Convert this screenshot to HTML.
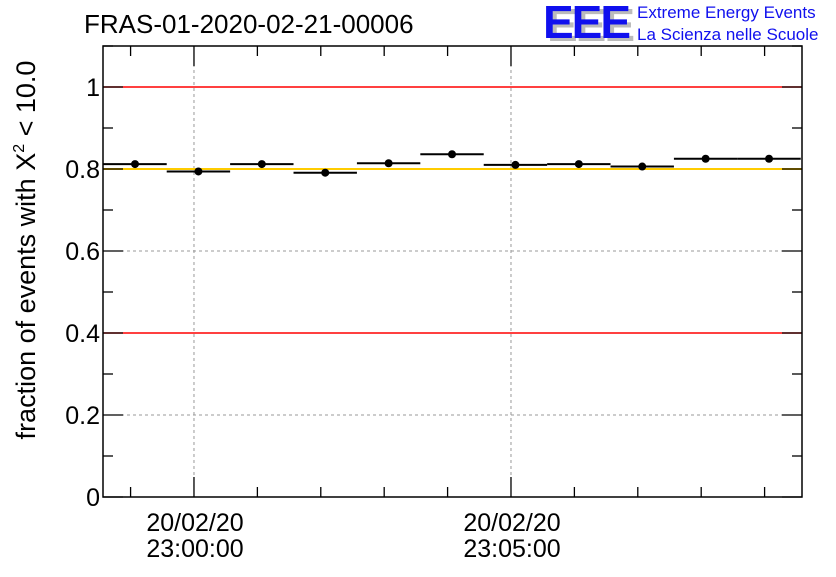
<!DOCTYPE html>
<html><head><meta charset="utf-8"><style>
body{margin:0;background:#fff;}
svg text{font-family:"Liberation Sans",sans-serif;}
</style></head><body>
<svg id="c" width="836" height="572" xmlns="http://www.w3.org/2000/svg"></svg>
<script>
const binCentersMin=[-0.93,0.07,1.07,2.07,3.07,4.07,5.07,6.07,7.07,8.07,9.07];
const fractions=[0.812,0.794,0.812,0.791,0.814,0.836,0.810,0.812,0.806,0.825,0.825];
const yTicks=[0,0.2,0.4,0.6,0.8,1];
const yTickLabels=["0","0.2","0.4","0.6","0.8","1"];
const xMajor=[0,5];
const xMajorLabels=[["20/02/20","23:00:00"],["20/02/20","23:05:00"]];
const refRed=[1,0.4];
const refYellow=[0.8];
const L=103,R=802,T=46,B=497;
const xMin=-1.435,xMax=9.59,yMin=0,yMax=1.1;
const X=v=>L+(v-xMin)/(xMax-xMin)*(R-L);
const Y=v=>B-(v-yMin)/(yMax-yMin)*(B-T);
const svg=document.getElementById('c');
const NS='http://www.w3.org/2000/svg';
function mk(tag,attrs,name,txt){const e=document.createElementNS(NS,tag);for(const k in attrs)e.setAttribute(k,attrs[k]);


if(txt!==undefined)e.textContent=txt;svg.appendChild(e);return e;}
yTicks.forEach(v=>{if(v>0&&v<1)mk('line',{x1:L,x2:R,y1:Y(v),y2:Y(v),stroke:'#999','stroke-dasharray':'3,3','stroke-width':1},'y-grid-line');});
xMajor.forEach(v=>mk('line',{x1:X(v),x2:X(v),y1:T,y2:B,stroke:'#999','stroke-dasharray':'3,3','stroke-width':1},'x-grid-line'));
refRed.forEach(v=>mk('line',{x1:L,x2:R,y1:Y(v),y2:Y(v),stroke:'#f00','stroke-width':1.6},'red-threshold-line'));
refYellow.forEach(v=>mk('line',{x1:L,x2:R,y1:Y(v),y2:Y(v),stroke:'#ffcc00','stroke-width':2},'yellow-threshold-line'));
mk('rect',{x:L,y:T,width:R-L,height:B-T,fill:'none',stroke:'#000','stroke-width':1.5},'plot-frame');
for(let i=0;i<=11;i++){const v=i*0.1,len=(i%2===0)?20:10;
mk('line',{x1:L,x2:L+len,y1:Y(v),y2:Y(v),stroke:'#000','stroke-width':1.3},'y-tick');
mk('line',{x1:R,x2:R-len,y1:Y(v),y2:Y(v),stroke:'#000','stroke-width':1.3},'y-tick-right');}
yTicks.forEach((v,i)=>mk('text',{x:L-3,y:Y(v)+9,'text-anchor':'end','font-size':25},'y-tick-label',yTickLabels[i]));
for(let m=-1;m<=9;m++){const len=(m%5===0)?20:10;
mk('line',{x1:X(m),x2:X(m),y1:B,y2:B-len,stroke:'#000','stroke-width':1.3},'x-tick');
mk('line',{x1:X(m),x2:X(m),y1:T,y2:T+len,stroke:'#000','stroke-width':1.3},'x-tick-top');}
xMajor.forEach((v,i)=>{mk('text',{x:X(v)+1,y:531,'text-anchor':'middle','font-size':25},'x-tick-date',xMajorLabels[i][0]);
mk('text',{x:X(v)+1,y:557,'text-anchor':'middle','font-size':25},'x-tick-time',xMajorLabels[i][1]);});
binCentersMin.forEach((c,i)=>{const y=Y(fractions[i]);
mk('line',{x1:X(c-0.5),x2:X(c+0.5),y1:y,y2:y,stroke:'#000','stroke-width':2},'bin-error-bar');
mk('circle',{cx:X(c),cy:y,r:4,fill:'#000'},'data-point');});
mk('text',{x:84,y:33,'font-size':26},'chart-title','FRAS-01-2020-02-21-00006');
const yt=mk('text',{x:0,y:0,'font-size':27,transform:'translate(35,250) rotate(-90)','text-anchor':'middle'},'y-axis-title');
yt.innerHTML='fraction of events with X<tspan dy="-11" font-size="16">2</tspan><tspan dy="11"> &lt; 10.0</tspan>';
mk('text',{x:547,y:41,'font-size':46,'font-weight':'bold',fill:'#bbb','letter-spacing':'-2'},'logo-shadow','EEE');
mk('text',{x:543,y:38,'font-size':46,'font-weight':'bold',fill:'#1010ee','letter-spacing':'-2'},'logo-eee','EEE');
mk('text',{x:637,y:18,'font-size':17,fill:'#1010ee'},'logo-line1','Extreme Energy Events');
mk('text',{x:637,y:40,'font-size':17,fill:'#1010ee'},'logo-line2','La Scienza nelle Scuole');
</script>
</body></html>
